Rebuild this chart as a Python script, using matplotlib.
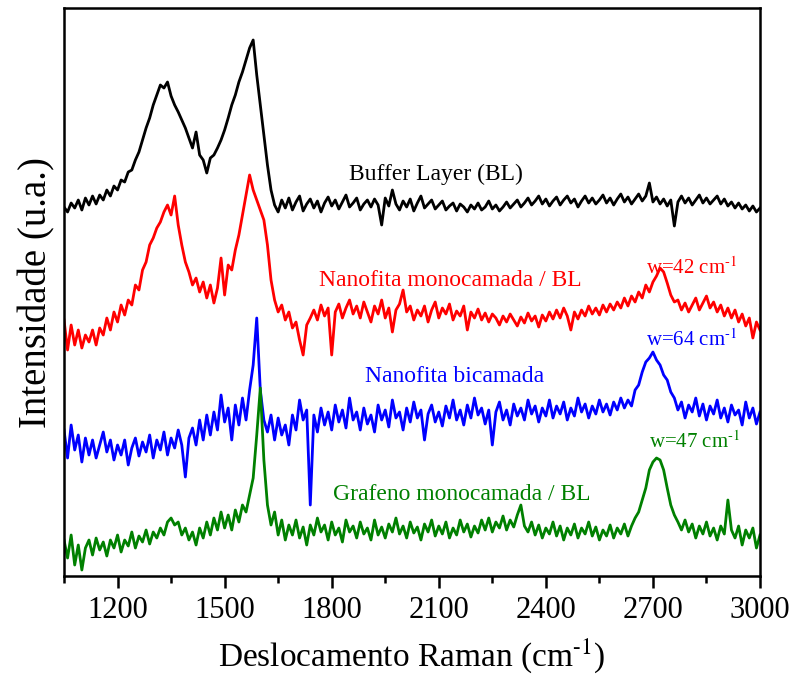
import numpy as np
import matplotlib
matplotlib.use('Agg')
import matplotlib.pyplot as plt

plt.rcParams['font.family'] = ['Liberation Serif', 'DejaVu Serif']
plt.rcParams['mathtext.fontset'] = 'stix'

# Raman shift sampled every 10 cm-1
raman_shift = np.arange(1050, 3001, 10)

# Intensities (a.u.), curves already offset for stacking
buffer_layer = [
    373, 368, 377, 372, 380, 370, 382, 375, 384, 376, 385, 380, 390, 384, 394, 390, 400, 398, 408, 410,
    420, 428, 440, 452, 462, 475, 485, 495, 492, 498, 484, 475, 468, 460, 452, 442, 432, 448, 425, 420,
    407, 422, 425, 432, 440, 450, 462, 475, 485, 498, 508, 520, 532, 540, 505, 475, 445, 415, 390, 375,
    368, 380, 372, 382, 370, 378, 384, 369, 376, 381, 372, 379, 368, 377, 383, 374, 380, 371, 378, 385,
    373, 377, 382, 370, 376, 380, 373, 381, 375, 355, 382, 374, 390, 376, 370, 379, 373, 381, 369, 377,
    384, 372, 376, 380, 371, 375, 379, 370, 374, 377, 369, 376, 373, 368, 375, 371, 377, 370, 373, 379,
    371, 375, 369, 373, 378, 372, 376, 380, 373, 377, 382, 375, 379, 384, 376, 381, 374, 379, 383, 375,
    380, 384, 377, 381, 373, 379, 384, 377, 382, 376, 380, 385, 377, 382, 375, 381, 386, 378, 383, 376,
    381, 386, 379, 384, 397, 378, 383, 376, 381, 374, 380, 354, 378, 384, 377, 382, 375, 380, 385, 377,
    382, 376, 380, 384, 376, 381, 374, 378, 372, 377, 371, 375, 369, 374, 368, 372,
]

nanofita_mono = [
    260, 230, 255, 235, 250, 232, 245, 238, 250, 235, 252, 245, 262, 250, 268, 258, 275, 265, 280, 275,
    295, 290, 310, 318, 335, 342, 352, 358, 368, 375, 365, 384, 355, 335, 318, 308, 295, 302, 288, 298,
    282, 295, 277, 292, 322, 285, 315, 310, 330, 345, 365, 385, 405, 390, 380, 370, 360, 335, 300, 280,
    268, 275, 260, 268, 252, 258, 240, 225, 255, 262, 270, 260, 275, 264, 272, 225, 268, 276, 262, 272,
    280, 266, 274, 262, 278, 268, 258, 274, 266, 280, 262, 272, 248, 270, 276, 290, 268, 274, 260, 270,
    264, 274, 258, 270, 278, 262, 272, 266, 276, 260, 269, 264, 274, 250, 268, 262, 271, 260, 267, 258,
    266, 262, 255, 264, 258, 266, 260, 254, 263, 257, 267, 259, 264, 253, 265, 259, 268, 261, 270, 262,
    272, 264, 250, 268, 261, 270, 264, 274, 266, 272, 265, 275, 268, 276, 270, 278, 272, 282, 274, 284,
    278, 288, 282, 295, 288, 298, 304, 312, 308, 297, 285, 278, 280, 270, 277, 268, 275, 282, 270, 277,
    284, 272, 278, 268, 275, 264, 272, 262, 270, 258, 266, 254, 262, 242, 258, 250,
]

nanofita_bi = [
    150, 122, 155, 130, 145, 118, 142, 125, 140, 122, 135, 148, 128, 140, 120, 135, 125, 140, 115, 132,
    142, 124, 138, 128, 145, 122, 140, 130, 148, 125, 142, 132, 150, 135, 103, 142, 152, 135, 160, 140,
    165, 145, 168, 150, 185, 158, 172, 140, 175, 155, 182, 160, 190, 215, 262, 190, 160, 148, 165, 140,
    162, 145, 155, 135, 165, 150, 180, 160, 170, 75, 165, 148, 172, 155, 168, 150, 175, 158, 170, 152,
    182, 160, 168, 150, 172, 156, 165, 148, 175, 160, 170, 153, 180, 162, 168, 150, 172, 158, 178, 162,
    170, 140, 166, 175, 158, 168, 154, 174, 162, 180, 160, 170, 155, 175, 162, 182, 165, 172, 156, 170,
    135, 168, 178, 160, 170, 155, 176, 164, 172, 160, 180, 166, 174, 158, 172, 164, 180, 162, 174, 166,
    178, 160, 172, 164, 182, 168, 176, 162, 174, 166, 180, 168, 176, 165, 178, 170, 182, 172, 180, 174,
    190, 195, 208, 218, 222, 228, 220, 215, 205, 200, 188, 182, 170, 178, 162, 175, 168, 182, 164, 176,
    160, 174, 166, 180, 162, 172, 158, 175, 165, 170, 155, 178, 162, 172, 156, 168,
]

grafeno_mono = [
    40, 22, 45, 15, 35, 10, 32, 40, 25, 42, 30, 38, 24, 40, 32, 45, 28, 40, 34, 48,
    32, 44, 38, 50, 36, 48, 42, 52, 45, 58, 62, 55, 58, 45, 52, 40, 48, 35, 52, 42,
    58, 45, 62, 50, 68, 52, 65, 50, 70, 58, 75, 68, 85, 102, 145, 192, 120, 75, 55, 68,
    45, 60, 40, 55, 45, 60, 42, 53, 35, 55, 45, 62, 48, 55, 40, 58, 45, 52, 38, 60,
    48, 54, 42, 58, 46, 52, 40, 60, 45, 53, 42, 56, 48, 62, 46, 54, 42, 58, 47, 53,
    40, 56, 48, 60, 44, 54, 46, 58, 42, 52, 45, 60, 48, 56, 43, 54, 47, 60, 50, 62,
    48, 58, 52, 64, 50, 60, 53, 65, 75, 54, 48, 58, 45, 55, 42, 52, 46, 58, 44, 54,
    40, 52, 45, 56, 42, 52, 46, 58, 44, 53, 40, 50, 44, 55, 42, 52, 46, 56, 44, 54,
    62, 68, 80, 92, 110, 118, 122, 120, 110, 92, 75, 65, 58, 50, 60, 48, 56, 42, 54, 46,
    58, 44, 52, 40, 54, 46, 80, 50, 42, 54, 35, 50, 42, 52, 32, 45,
]

series = [
    (buffer_layer, 'black'),
    (nanofita_mono, 'red'),
    (nanofita_bi, 'blue'),
    (grafeno_mono, 'green'),
]

fig = plt.figure(figsize=(7.98, 6.90), dpi=100)
ax = fig.add_axes([0.0802, 0.1652, 0.8722, 0.8232])

for values, color in series:
    ax.plot(raman_shift, values, color=color, lw=2.0)

# curve labels
ax.text(2093, 406, 'Buffer Layer (BL)', color='black', fontsize=17, ha='center', va='center')
ax.text(2132, 300, 'Nanofita monocamada / BL', color='red', fontsize=17, ha='center', va='center')
ax.text(2143, 204, 'Nanofita bicamada', color='blue', fontsize=17, ha='center', va='center')
ax.text(2163, 86, 'Grafeno monocamada / BL', color='green', fontsize=17, ha='center', va='center')

# FWHM of the 2D band
sup = r'$^{\text{-1}}$'
ax.text(2808, 312, 'w=42 cm' + sup, color='red', fontsize=15, ha='center', va='center')
ax.text(2808, 240, 'w=64 cm' + sup, color='blue', fontsize=15, ha='center', va='center')
ax.text(2817, 138, 'w=47 cm' + sup, color='green', fontsize=15, ha='center', va='center')

ax.set_xlim(1050, 3000)
ax.set_ylim(4, 572)
ax.set_xticks([1200, 1500, 1800, 2100, 2400, 2700, 3000])
ax.set_xticks(np.arange(1050, 3000, 300), minor=True)
ax.set_yticks([])

for sp in ax.spines.values():
    sp.set_linewidth(1.8)
ax.tick_params(axis='x', which='major', direction='out', length=8.5, width=1.8, labelsize=22, pad=6)
ax.tick_params(axis='x', which='minor', direction='out', length=5, width=1.8)

ax.set_xlabel('Deslocamento Raman (cm' + sup + ')', fontsize=24, labelpad=8)
ax.set_ylabel('Intensidade (u.a.)', fontsize=28, labelpad=6)

plt.savefig('out.png', dpi=100)
